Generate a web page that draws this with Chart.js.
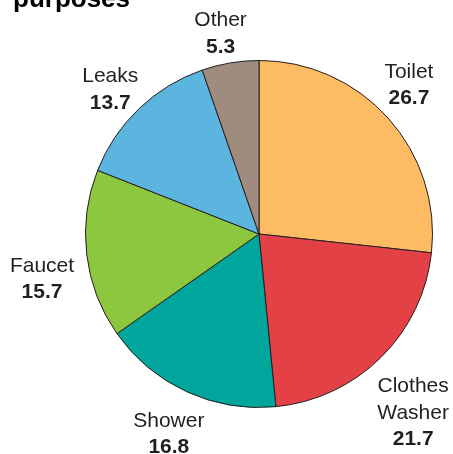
<!DOCTYPE html>
<html>
<head>
<meta charset="utf-8">
<script src="https://cdn.jsdelivr.net/npm/chart.js@4/dist/chart.umd.min.js"></script>
<style>
  html, body { margin: 0; padding: 0; background: #fff; }
  #wrap { width: 453px; height: 454px; position: relative; }
</style>
</head>
<body>
<div id="wrap"><canvas id="chart" width="453" height="454"></canvas></div>
<script>
const categories = [['Toilet'], ['Clothes', 'Washer'], ['Shower'], ['Faucet'], ['Leaks'], ['Other']];
const values = [26.7, 21.7, 16.8, 15.7, 13.7, 5.3];
const colors = ['#fdbb64', '#e34146', '#00a69c', '#8dc63f', '#5bb5df', '#a08c7e'];

// small hand nudges so the labels sit where the original put them
const labelNudge = [[-9, -6], [4, 27], [-1, 6], [-5, 20], [-1, 10], [-3, 10]];

// outside labels: name lines + bold value, centred on the slice's mid angle
const outsideLabels = {
  id: 'outsideLabels',
  afterDraw(chart) {
    const ctx = chart.ctx;
    const meta = chart.getDatasetMeta(0);
    ctx.save();
    ctx.fillStyle = '#231f20';
    ctx.textAlign = 'center';
    ctx.textBaseline = 'middle';
    meta.data.forEach((arc, i) => {
      const mid = (arc.startAngle + arc.endAngle) / 2;
      const r = arc.outerRadius + 40;
      const x = arc.x + Math.cos(mid) * r + labelNudge[i][0];
      const y = arc.y + Math.sin(mid) * r + labelNudge[i][1];
      const lines = categories[i];
      const total = lines.length + 1;
      const lh = 26.5;
      let y0 = y - (total - 1) * lh / 2;
      ctx.font = '21px "Liberation Sans", Arial, sans-serif';
      lines.forEach((t, j) => ctx.fillText(t, x, y0 + j * lh));
      ctx.font = 'bold 21px "Liberation Sans", Arial, sans-serif';
      ctx.fillText(values[i].toFixed(1), x, y0 + lines.length * lh);
    });
    // cut-off title
    ctx.textAlign = 'left';
    ctx.textBaseline = 'alphabetic';
    ctx.fillStyle = '#000';
    ctx.font = 'bold 26px "Liberation Sans", Arial, sans-serif';
    ctx.fillText('purposes', 13, 7);
    ctx.restore();
  }
};

new Chart(document.getElementById('chart'), {
  type: 'pie',
  data: {
    labels: categories.map(c => c.join(' ')),
    datasets: [{
      data: values,
      backgroundColor: colors,
      borderColor: '#231f20',
      borderWidth: 1
    }]
  },
  options: {
    responsive: false,
    animation: false,
    layout: { padding: { left: 85, right: 20, top: 60, bottom: 46 } },
    plugins: {
      legend: { display: false },
      tooltip: { enabled: false }
    }
  },
  plugins: [outsideLabels]
});
</script>
</body>
</html>
